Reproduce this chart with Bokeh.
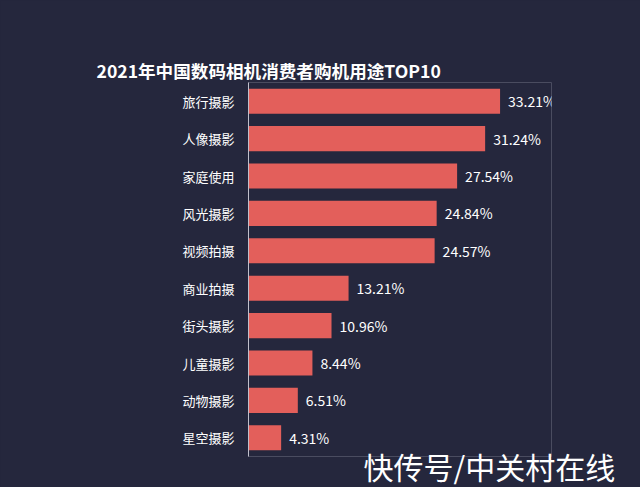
from bokeh.plotting import figure
from bokeh.models import FactorRange, Range1d, Title, ColumnDataSource
from bokeh.core.properties import value
from bokeh.embed import file_html
from bokeh.resources import INLINE

categories = ["旅行摄影", "人像摄影", "家庭使用", "风光摄影", "视频拍摄",
              "商业拍摄", "街头摄影", "儿童摄影", "动物摄影", "星空摄影"]
values = [33.21, 31.24, 27.54, 24.84, 24.57, 13.21, 10.96, 8.44, 6.51, 4.31]
labels = ["33.21%", "31.24%", "27.54%", "24.84%", "24.57%",
          "13.21%", "10.96%", "8.44%", "6.51%", "4.31%"]

BG = "#25273d"
FONT = "Noto Sans CJK SC"

src = ColumnDataSource(dict(cat=categories, val=values, lab=labels))

p = figure(width=640, height=487, output_backend="svg", toolbar_location=None,
           y_range=FactorRange(factors=categories[::-1], range_padding=0),
           x_range=Range1d(0, 40),
           min_border_left=248, min_border_right=89, min_border_top=82,
           min_border_bottom=31)
p.background_fill_color = BG
p.border_fill_color = BG
p.outline_line_color = "#4a4c60"
p.grid.visible = False
p.xaxis.visible = False

p.yaxis.axis_line_color = "#c0c0cc"
p.yaxis.major_tick_line_color = None
p.yaxis.minor_tick_line_color = None
p.yaxis.major_label_text_color = "white"
p.yaxis.major_label_text_font = FONT
p.yaxis.major_label_text_font_size = "13px"
p.yaxis.major_label_standoff = 8

p.hbar(y="cat", right="val", left=0, height=0.67, source=src,
       fill_color="#e35f5b", line_color=None)
p.text(x="val", y="cat", text="lab", source=src, x_offset=8,
       text_baseline="middle", text_align="left", text_color="white",
       text_font=value(FONT), text_font_size="14px")

# the plot's own title slot (innermost) used as an invisible spacer
p.title.text = "."
p.title.text_color = BG
p.title.text_alpha = 0.0
p.title.text_font = FONT
p.title.text_font_size = "13px"
p.title.standoff = 15
p.title.align = "left"

main_title = Title(text="2021年中国数码相机消费者购机用途TOP10", text_color="white",
                   text_font=FONT, text_font_size="17.6px", text_font_style="bold",
                   align="left", offset=-152, standoff=0)
p.add_layout(main_title, "above")

wm = Title(text="快传号/中关村在线", text_color="white", text_font=FONT,
           text_font_size="30px", text_font_style="normal", align="left",
           offset=115, standoff=-29)
p.add_layout(wm, "below")

html = file_html(p, INLINE)
html = html.replace("<head>", "<head><style>html,body{background:%s;}</style>" % BG, 1)
open("out.html", "w").write(html)
